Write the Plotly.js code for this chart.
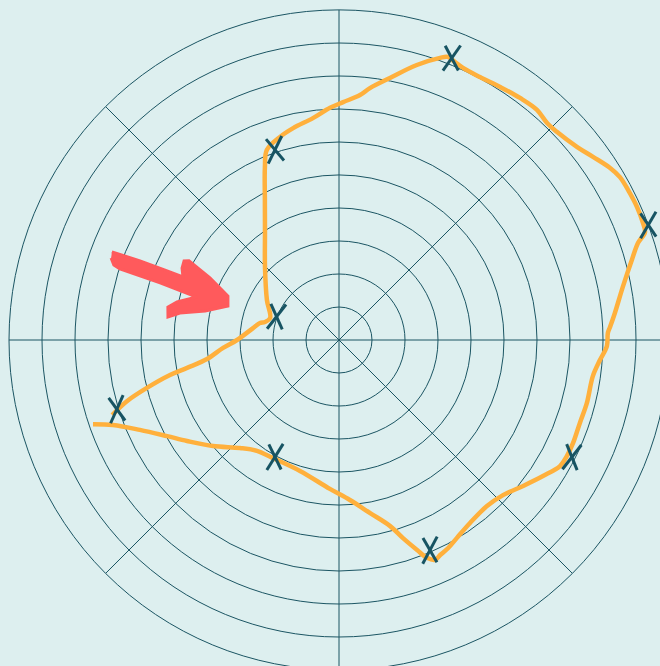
<!DOCTYPE html>
<html>
<head>
<meta charset="utf-8">
<script src="https://cdn.plot.ly/plotly-3.0.1.min.js"></script>
<style>
html,body{margin:0;padding:0;overflow:hidden;background:#ddefef;}
#chart{width:678px;height:680px;}
</style>
</head>
<body>
<div id="chart"></div>
<script>
// Hand-drawn orange path (radius in grid rings, angle in degrees)
var pathR = [7.88,7.32,6.62,5.97,5.53,4.99,4.44,4.18,4.10,4.14,4.52,4.86,5.33,5.84,6.31,6.79,7.12,7.27,7.20,7.12,6.98,6.82,6.74,6.84,7.12,7.43,7.71,7.75,7.75,7.72,7.75,7.77,7.93,8.12,8.15,8.22,8.40,8.75,9.20,9.53,9.83,9.87,9.89,9.87,9.84,9.73,9.49,9.29,9.13,9.11,9.20,9.16,9.09,9.04,9.06,9.13,9.19,9.08,8.66,8.09,7.69,7.45,7.21,7.04,6.77,6.57,6.41,6.16,5.70,4.80,3.94,3.15,2.50,2.19,2.31,2.45,2.63,3.09,3.52,4.04,4.68,5.23,6.00,6.69,7.24];
var pathTheta = [198.9,200.6,204.3,209.2,213.6,220.1,227.5,233.5,240.8,253.4,266.5,273.9,280.2,285.3,287.9,290.4,292.0,293.6,295.2,297.7,300.8,305.6,311.7,316.6,321.6,326.3,330.3,333.0,336.2,341.0,345.7,351.9,355.6,358.7,361.5,362.7,365.6,370.6,375.3,378.0,379.4,381.0,384.0,387.4,390.1,392.4,395.8,399.0,403.7,406.2,409.3,413.2,417.5,421.8,425.5,427.4,429.0,430.3,434.2,439.0,443.0,445.1,449.0,452.2,456.7,462.2,466.2,470.8,473.2,477.9,484.7,495.4,510.9,522.3,526.3,527.9,532.1,540.0,543.9,548.2,550.4,551.7,554.0,556.1,558.3];

// X marks (two strokes each)
var markR = [9.2,10.0,7.9,6.94,4.04,7.05,2.02,6.08];
var markTheta = [68.2,20.4,333.3,293.4,241.3,197.3,159.5,108.6];
var strokeA = [35,30,38,28,32,24,38,26];
var strokeB = [-28,-34,-22,-30,-26,-36,-24,-40];

// Red arrow outline
var arrowR = [7.38,6.49,5.68,5.10,5.23,5.27,5.14,4.34,3.62,3.52,4.15,4.89,5.23,5.28,5.04,4.50,5.69,6.50,6.98,7.19,7.34];
var arrowTheta = [158.8,158.3,158.1,158.0,155.4,153.0,152.2,154.3,158.4,163.0,167.8,170.4,172.3,169.1,166.8,163.2,162.3,162.1,162.0,161.6,160.2];

var ringTicks = [0,1,2,3,4,5,6,7,8,9,10];

var grid = '#1b5563';
var markColor = '#175463';
var traces = [
  {
    type:'scatterpolar', mode:'lines', r:arrowR, theta:arrowTheta,
    fill:'toself', fillcolor:'#ff5a5c',
    line:{color:'#ff5a5c', width:3}, hoverinfo:'skip', showlegend:false
  },
  {
    type:'scatterpolar', mode:'lines', r:pathR, theta:pathTheta,
    line:{color:'#ffb03c', width:4.5, shape:'spline'}, hoverinfo:'skip', showlegend:false
  },
  {
    type:'scatterpolar', mode:'markers', r:markR, theta:markTheta,
    marker:{symbol:'line-ns', size:22, angle:strokeA, line:{color:markColor, width:3}},
    showlegend:false
  },
  {
    type:'scatterpolar', mode:'markers', r:markR, theta:markTheta,
    marker:{symbol:'line-ns', size:20, angle:strokeB, line:{color:markColor, width:3}},
    showlegend:false
  }
];

var layout = {
  width:678, height:680,
  margin:{l:9, r:9, t:10, b:10, pad:0},
  paper_bgcolor:'#ddefef',
  showlegend:false,
  polar:{
    bgcolor:'#ddefef',
    domain:{x:[0,1], y:[0,1]},
    radialaxis:{
      range:[0,10], tickmode:'array', tickvals:ringTicks,
      showticklabels:false, ticks:'', showline:false,
      gridcolor:grid, gridwidth:1
    },
    angularaxis:{
      dtick:45, rotation:0, direction:'counterclockwise',
      showticklabels:false, ticks:'',
      showline:true, linecolor:grid, linewidth:1,
      gridcolor:grid, gridwidth:1
    }
  }
};

Plotly.newPlot('chart', traces, layout, {displayModeBar:false, staticPlot:true});
</script>
</body>
</html>
